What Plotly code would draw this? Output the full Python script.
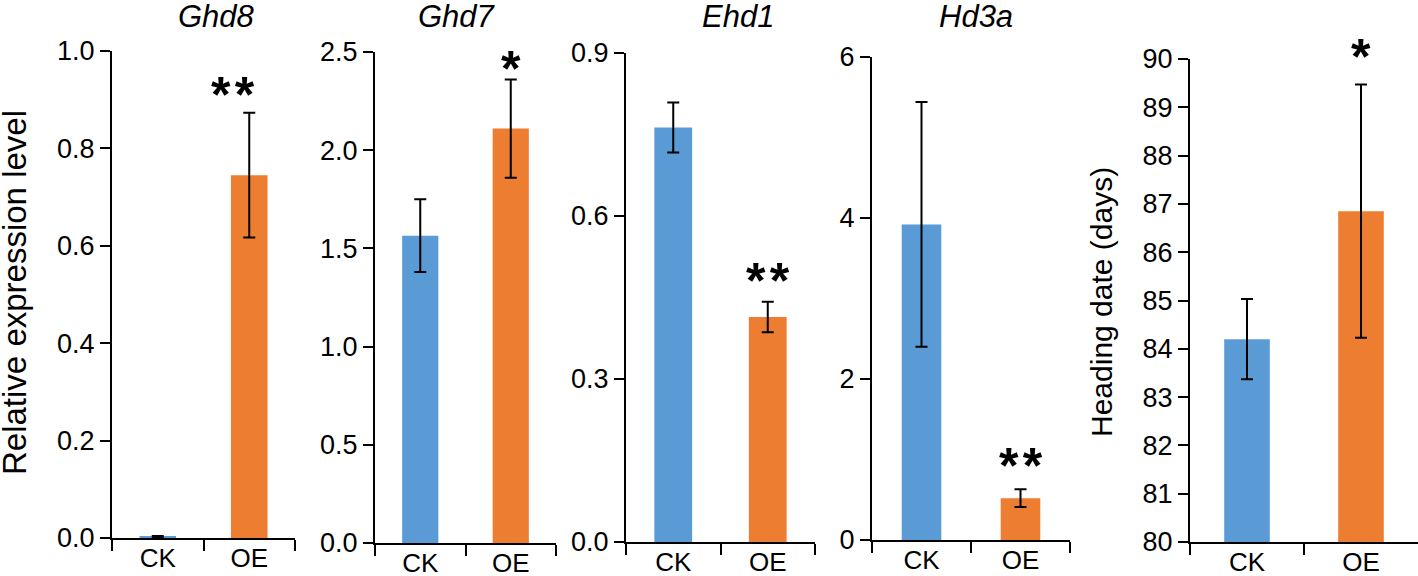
import plotly.graph_objects as go

# ---------------- data ----------------
categories = ["CK", "OE"]
genes = ["Ghd8", "Ghd7", "Ehd1", "Hd3a"]

ghd8_mean = [0.003, 0.745]
ghd8_err = [0.001, 0.128]
ghd7_mean = [1.565, 2.11]
ghd7_err = [0.185, 0.25]
ehd1_mean = [0.763, 0.414]
ehd1_err = [0.046, 0.028]
hd3a_mean = [3.92, 0.52]
hd3a_err = [1.52, 0.11]
heading_mean = [84.2, 86.85]
heading_err = [0.83, 2.62]

significance = ["**", "*", "**", "**", "*"]

y_ranges = [[0, 1.0], [0, 2.5], [0, 0.9], [0, 6], [80, 90]]
y_dticks = [0.2, 0.5, 0.3, 2, 1]
y_formats = [".1f", ".1f", ".1f", "d", "d"]

# ---------------- style ----------------
W, H = 1418, 576
BLUE = "#5B9BD5"
ORANGE = "#ED7D31"
FONT = "Liberation Sans, Arial, sans-serif"


def px(x):
    return x / W


def py(y):
    return 1 - y / H


# page-pixel boxes of each panel: (x0, x1, ytop, ybottom)
boxes = [(112, 295, 51, 538), (375, 556, 52, 543), (626, 815, 53, 542),
         (872, 1070, 57, 540), (1190, 1418, 59, 542)]
title_x = [216, 457, 738, 976]
star_shift = [(-16, 27), (0, 20), (0, 30), (0, 32), (0, 37)]

means = [ghd8_mean, ghd7_mean, ehd1_mean, hd3a_mean, heading_mean]
errs = [ghd8_err, ghd7_err, ehd1_err, hd3a_err, heading_err]

fig = go.Figure()
layout = {}
annotations = []
for i in range(5):
    n = "" if i == 0 else str(i + 1)
    fig.add_trace(go.Bar(
        x=categories, y=means[i],
        marker=dict(color=[BLUE, ORANGE], line=dict(width=0)),
        error_y=dict(type="data", array=errs[i], visible=True,
                     color="black", thickness=2, width=6),
        xaxis="x" + n, yaxis="y" + n, showlegend=False,
    ))
    x0, x1, yt, yb = boxes[i]
    layout["xaxis" + n] = dict(
        domain=[px(x0), px(x1)], anchor="y" + n, type="category",
        range=[-0.5, 1.5], tickson="boundaries", ticks="outside",
        ticklen=11, tickwidth=2, tickcolor="black",
        showline=True, linewidth=2, linecolor="black", showgrid=False,
        automargin=False, ticklabelstandoff=-4,
        tickfont=dict(size=26, color="black", family=FONT),
    )
    layout["yaxis" + n] = dict(
        domain=[py(yb), py(yt)], anchor="x" + n,
        range=y_ranges[i], dtick=y_dticks[i], tick0=y_ranges[i][0],
        tickformat=y_formats[i], ticks="outside", ticklen=10,
        tickwidth=2, tickcolor="black", showline=True, linewidth=2,
        linecolor="black", showgrid=False, zeroline=False,
        automargin=False,
        tickfont=dict(size=27, color="black", family=FONT),
    )
    # significance marks above OE error bar
    annotations.append(dict(
        x="OE", y=means[i][1] + errs[i][1], xref="x" + n, yref="y" + n,
        text="<b>" + "\u200a".join(significance[i]) + "</b>",
        showarrow=False, xanchor="center", yanchor="middle",
        xshift=star_shift[i][0], yshift=star_shift[i][1] - 9,
        font=dict(size=50, color="black", family=FONT),
    ))

for g, tx in zip(genes, title_x):
    annotations.append(dict(
        x=px(tx), y=py(16), xref="paper", yref="paper",
        text="<i>" + g + "</i>", showarrow=False,
        xanchor="center", yanchor="middle",
        font=dict(size=31, color="black", family=FONT),
    ))

annotations.append(dict(
    x=px(14), y=py(293), xref="paper", yref="paper",
    text="Relative expression level", textangle=-90, showarrow=False,
    xanchor="center", yanchor="middle",
    font=dict(size=33, color="black", family=FONT),
))
annotations.append(dict(
    x=px(1101), y=py(302), xref="paper", yref="paper",
    text="Heading date (days)", textangle=-90, showarrow=False,
    xanchor="center", yanchor="middle",
    font=dict(size=30, color="black", family=FONT),
))

fig.update_layout(
    width=W, height=H,
    margin=dict(l=0, r=0, t=0, b=0, pad=0, autoexpand=False),
    plot_bgcolor="white", paper_bgcolor="white",
    bargap=0.6, annotations=annotations,
    font=dict(family=FONT, color="black"),
    **layout,
)

fig.write_html(
    "out.html",
    config={"displayModeBar": False},
    post_script="document.body.style.margin='0px';"
                "document.body.style.overflow='hidden';",
)
